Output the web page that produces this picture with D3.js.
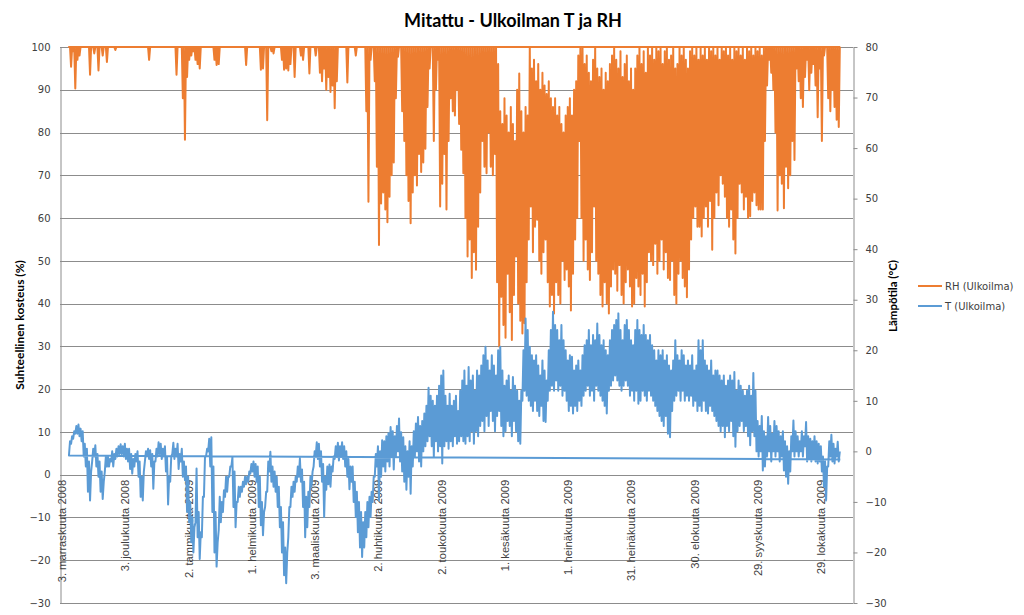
<!DOCTYPE html>
<html>
<head>
<meta charset="utf-8">
<script src="https://cdnjs.cloudflare.com/ajax/libs/d3/7.8.5/d3.min.js"></script>
<style>
body { margin: 0; background: #fff; }
</style>
</head>
<body>
<div id="chart-area"></div>
<script>

// SVG size
var width = 1024,
    height = 615;

// first day of each block of daily readings
var monthStarts = ["2008-11-06", "2008-12-01", "2009-01-01", "2009-02-01", "2009-03-01", "2009-04-01",
    "2009-05-01", "2009-06-01", "2009-07-01", "2009-08-01", "2009-09-01", "2009-10-01", "2009-11-01"];

// T (Ulkoilma), daily [low, high] in °C
var tNov08 = [[-0.8,2],[1.5,3],[2.5,4],[3.5,5],[3.5,5.3],[3,4.5],[2,4],[-1,1.5],[-3,0.5],[-8,-2],[-9.7,-4],[-2,0.5],[-1,1.2],[-3,-0.5],[-5,-2],[-8,-4],[-9.4,-6],[-4,-1],[-3,-1],[-3,-1.5],[-2,0],[-3,-0.5],[-1.5,0.5],[-1,1],[-0.5,1.4]];
var tDec08 = [[-0.5,1],[-1,1.5],[-1.5,0.5],[-2,0.5],[-3.5,-0.5],[-4.4,-1.5],[-3,-0.5],[-2,0],[-5,-2],[-9,-5],[-9.7,-4],[-2,0],[-1,0.5],[-1.5,0.2],[-3,-0.5],[-7.4,-2],[-2,0.5],[-1,1.8],[-0.5,1.5],[-1.5,0.5],[-1,1],[-4,-1],[-10.5,-5],[-6,-1],[-0.5,1.7],[-1.5,0.5],[-1,1.5],[-3.5,-0.5],[-2,0.5],[-5,-2],[-5.7,-3]];
var tJan09 = [[-12,-5],[-14,-10],[-18,-13],[-20,-15],[-14,-3.4],[-17,-12],[-21.3,-16],[-17,-9],[-9,-1],[-1,0.5],[0,2.5],[-3,2.8],[-12,-3],[-20,-12],[-22.8,-18],[-15.6,-9],[-14,-10],[-12,-7.7],[-9,-5],[-8,-5],[-5,-3],[-3,-1.2],[-11,-4],[-15,-10],[-10,-7],[-9,-7],[-8,-6],[-7,-5],[-6.5,-5],[-6,-4],[-4.4,-2.5]];
var tFeb09 = [[-4,-2],[-5,-2.5],[-6,-3],[-11,-5],[-14.6,-10],[-16.6,-12],[-11,-8],[-8,-2],[-4,-0.1],[-6,-3],[-7,-4],[-8,-5],[-11,-7],[-15,-11],[-20,-14],[-24.5,-19],[-26.1,-20],[-17,-11],[-11,-7],[-9,-6],[-8,-5],[-6,-3],[-5,-1.4],[-6,-3.6],[-11,-6],[-17,-9],[-15,-8],[-11,-5]];
var tMar09 = [[-7,-4],[-3,0],[-1,1.8],[-1.5,1.5],[-3,0],[-6,-2.5],[-13,-5],[-7.6,-3],[-6.5,-2.6],[-7,-3],[-4,-1],[-1.5,1],[-1,1.7],[-1.8,1],[-1,1.8],[-1.5,1],[-3,0],[-5,-1.5],[-7.5,-3],[-6,-3],[-10,-6],[-13,-8],[-16,-10],[-19,-12],[-20.9,-14],[-19,-12],[-17,-10],[-15,-9],[-13,-8],[-10,-5],[-5,-0.5]];
var tApr09 = [[-3,1],[-9.7,0],[-5,2.2],[-3,2],[-4,3],[-2,3.6],[-3,4.8],[-1,4],[-3.6,3],[-1,5],[0,6.5],[-2,3.8],[-4,2.8],[-6,1],[-7.6,0],[-5,2],[-8.4,1],[-3,4],[-1,5.5],[0,6.8],[-2,5],[-3,6],[0,7.5],[1,9],[2,12.6],[3,11],[1,10],[-1,9],[2,11],[0,13]];
var tMay09 = [[1,15],[-2.4,16],[1,11],[2,9],[0.5,11.4],[2,9],[1,10],[3,11],[1.5,8],[2,12],[3,14],[2,16],[1.5,13],[3,16.7],[2,14],[4,15],[1.5,12],[4,16],[3,15],[5,17],[6,19],[4,20.7],[7,18],[5,16],[8,19],[6,17],[4,15],[7,20],[8,20.7],[5,16],[3,13]];
var tJun09 = [[4,14],[6,15],[5,12],[3,14.7],[6,13],[4,12],[2,10],[1.5,12],[10,20],[12,26.3],[11,24],[10,20.7],[9,19],[8,18],[10,19],[8,17],[7,15],[9,18],[6,16],[5.8,14],[10,20],[12,24],[13,27.6],[12,25],[14,24],[12,22],[13,25],[11,22],[12,20],[10,18]];
var tJul09 = [[8,19],[9,18.7],[7.5,16],[9,17],[8,18],[10,16],[9,19],[11,21],[12,22],[13,24],[11,21],[12,23],[10,22],[13,25.3],[12,23],[11,21],[10,22],[9,20],[7.5,19],[12,22],[13,24],[14,25],[15,26],[14,27.3],[13,24],[12,22],[13,25],[14,26],[13,24],[11,22],[12,21]];
var tAug09 = [[10,24],[12,26],[9.4,24],[10,23],[12,25],[11,23],[10,22],[12,23],[11,21],[10,20],[9,18],[8,20],[7,19],[6,20],[5,18],[7,19],[3.5,17],[2.8,16],[8,18],[10,22],[11,19],[12,18],[10,20],[12,19],[10,17],[11,18],[10,17],[11,19],[9,16],[10,17],[8,22]];
var tSep09 = [[9,20],[8,22],[10,18],[8,17],[7.5,16],[9,18],[8,15],[7,16],[6,16],[5,15],[4,14],[5,15],[2.8,13],[5,14],[4,15],[6,14],[3,15.7],[0.9,12],[4,14],[5,13],[6,12],[4,11],[5,12],[3,13],[1.2,11],[4,15.5],[3,12],[0,6],[-1,5],[0,7]];
var tOct09 = [[-3.8,4],[-3,3],[-1,6.8],[0,5],[-2,3.5],[0,6],[-1,5],[0,4],[-2,3],[-1,4],[-3.8,2],[-5,1],[-6.4,0],[-4,3],[0,6.1],[-1,4],[0,3],[-1,2],[0,4],[-1,3],[1,5.8],[-2,3],[-1.5,2.5],[-2,2],[-1.5,3],[-2,2],[-2.4,1.5],[-2,1],[-4,-1],[-7,-2],[-9.7,-3]];
var tNov09 = [[-3,2],[-1,3.3],[-2,1.5],[-2.4,0.5],[-1,1.9],[-2,0]];

// RH (Ulkoilma), daily [low, high] in %, a single number when the day stayed there
var rhNov08 = [100,[95.4,100],[99,100],[90.3,100],[97,100],[98,100],100,100,100,100,[93.5,100],100,[98.5,100],100,[94.5,100],100,[98,100],100,[96.5,100],100,100,100,[99.3,100],100,100];
var rhDec08 = [100,100,100,100,100,100,100,100,100,100,100,100,100,[97,100],100,100,100,100,100,100,100,100,100,100,100,100,[93.5,100],100,100,[88,100],[78.3,100]];
var rhJan09 = [[93,100],[97,100],[98,100],[99,100],[97,100],[96,100],[95,100],100,100,100,100,100,100,[97,100],[95.8,100],[96,100],100,100,100,100,100,100,100,100,100,100,100,100,[95.8,100],100,100];
var rhFeb09 = [100,100,100,100,[94.7,100],[95,100],100,[82.9,100],100,[99,100],[98.5,100],100,100,100,[97,100],[94.7,100],[95,100],[94.5,100],[96,100],100,[93,100],100,100,[98,100],[97,100],100,100,[93.8,100]];
var rhMar09 = [100,100,[98,100],100,[94,100],[92,100],[95,100],[90,100],[93,100],[89.5,100],[91,100],[85.7,100],[92,100],100,100,100,100,[91.7,100],100,100,100,[98,100],100,100,100,100,[85,100],[63.8,100],[97,100],100,[92,100]];
var rhApr09 = [[72,100],[53.7,100],[63.4,100],[66,100],[62,100],[59,100],[65,100],[70,100],[73,100],[88,100],[97.7,100],100,[85,100],[78,100],[70,100],[64,100],[58.8,100],[66,100],[70,100],[67.6,100],[75,100],[70.8,100],[73,100],[76.2,100],[86,100],[95,100],100,[78,100],[90,100],[97,100]];
var rhMay09 = [[62.7,100],[68,100],[75,100],[62,100],[78,100],[88,100],[85,100],[84,100],[90,100],[82,100],[76,100],[70.5,100],[60,100],[51,100],[55,100],[46,100],[52,100],[47.9,100],[58,100],[66,100],[78,100],[72,100],[70.5,100],[80,100],[72,100],[70,100],[75,100],[45,96],[30,85],[41.6,82],[35,88]];
var rhJun09 = [[32,84],[47,80],[38,86],[31.5,82],[42,78],[51,90],[40,93.8],[36,85],[33,80],[35.4,86],[45,84],[55,100],[62.7,95],[52,97],[58,92],[59.6,96],[50,90],[47,94],[52,91],[55,89],[45,92],[39.3,88],[42,86],[37.7,88],[45,84],[42,86],[40,82],[50,80],[45.5,84],[48,86]];
var rhJul09 = [[44,88],[38.4,84],[47,90],[55,92],[60,98],[78,100],[60,100],[50,96],[55,98],[48,94],[45.5,92],[52,97],[62.7,100],[50,95],[47,93],[42,95],[39.3,90],[45,94],[40,92],[37.7,96],[44,98],[48,100],[47,97],[43,95],[49,99],[42,93],[40,96],[45,98],[48,92],[44,95],[39.3,90]];
var rhAug09 = [[40,95],[46,98],[44,100],[42,96],[47,99],[39.3,94],[45,100],[52,98],[50,100],[49,97],[54,100],[47,99],[50,100],[55,96],[48,99],[52,100],[46,97],[45.5,98],[50,100],[42,95],[40,96],[47,100],[50,98],[46,100],[44,97],[41.5,95],[48,99],[55,100],[60,98],[62.7,100],[58,97]];
var rhSep09 = [[58,100],[55.7,98],[60,100],[62.7,97],[58,100],[64,99],[52.6,100],[60,98],[66,100],[63,97],[70,100],[68,99],[65,100],[60,98],[58,100],[62,97],[55,100],[51.7,99],[60,100],[68,98],[66,100],[62,97],[65,100],[60,99],[60.4,100],[64,98],[66,100],[63,99],[62,100],[62,98]];
var rhOct09 = [[62,100],[78,100],[91,100],[97,100],[94,100],[90,100],[80,100],[61.8,100],[70,100],[68,100],[62.3,100],[72,100],[67,100],[70,100],[78,100],[73.6,100],[95,100],[92,100],[88,100],[86,100],[93,100],[97,100],[89.9,100],[94,100],[96,100],[91,100],[83.6,100],[95,100],[78,100],[98,100],100];
var rhNov09 = [[88,100],[85,100],[90,100],[86,100],[83,100],[81.3,100]];

// the logger's last reading is stored ahead of the first one
var tStray = { date: "2009-11-07", value: -1.6 };
var rhStray = { date: "2009-11-07", value: 100 };

var tMonths = [tNov08, tDec08, tJan09, tFeb09, tMar09, tApr09, tMay09, tJun09, tJul09, tAug09, tSep09, tOct09, tNov09];
var rhMonths = [rhNov08, rhDec08, rhJan09, rhFeb09, rhMar09, rhApr09, rhMay09, rhJun09, rhJul09, rhAug09, rhSep09, rhOct09, rhNov09];

// axis ticks and labels
var tickDates = ["2008-11-03", "2008-12-03", "2009-01-02", "2009-02-01", "2009-03-03", "2009-04-02", "2009-05-02",
    "2009-06-01", "2009-07-01", "2009-07-31", "2009-08-30", "2009-09-29", "2009-10-29"];
var tickLabels = ["3. marraskuuta 2008", "3. joulukuuta 2008", "2. tammikuuta 2009", "1. helmikuuta 2009",
    "3. maaliskuuta 2009", "2. huhtikuuta 2009", "2. toukokuuta 2009", "1. kesäkuuta 2009", "1. heinäkuuta 2009",
    "31. heinäkuuta 2009", "30. elokuuta 2009", "29. syyskuuta 2009", "29. lokakuuta 2009"];
var rhTicks = [-30, -20, -10, 0, 10, 20, 30, 40, 50, 60, 70, 80, 90, 100];
var tTicks = [-30, -20, -10, 0, 10, 20, 30, 40, 50, 60, 70, 80];
var seriesNames = ["RH (Ulkoilma)", "T (Ulkoilma)"];
var seriesColors = ["#ED7D31", "#5B9BD5"];


var parseDate = d3.utcParse("%Y-%m-%d");

function buildSeries(months, stray) {
    var pts = [{ date: parseDate(stray.date), value: stray.value }];
    months.forEach(function (days, i) {
        var start = parseDate(monthStarts[i]);
        days.forEach(function (v, j) {
            var pair = Array.isArray(v) ? v : [v, v];
            var day = d3.utcDay.offset(start, j);
            pts.push({ date: d3.utcHour.offset(day, 6), value: pair[0] });
            pts.push({ date: d3.utcHour.offset(day, 18), value: pair[1] });
        });
    });
    return pts;
}

var rhData = buildSeries(rhMonths, rhStray);
var tData = buildSeries(tMonths, tStray);

var plotLeft = 60, plotRight = 853, plotTop = 47, plotBottom = 603;

var svg = d3.select("#chart-area").append("svg")
    .attr("width", width)
    .attr("height", height)
    .style("font-family", "'DejaVu Sans', Verdana, sans-serif");

var x = d3.scaleUtc()
    .domain([parseDate("2008-11-02"), parseDate("2009-11-13")])
    .range([plotLeft, plotRight]);

var rhScale = d3.scaleLinear().domain([-30, 100]).range([plotBottom, plotTop]);
var tScale = d3.scaleLinear().domain([-30, 80]).range([plotBottom, plotTop]);

// gridlines
svg.append("g")
    .selectAll("line")
    .data(rhTicks)
    .enter()
    .append("line")
    .attr("x1", plotLeft)
    .attr("x2", plotRight)
    .attr("y1", function (d) { return Math.round(rhScale(d)) + 0.5; })
    .attr("y2", function (d) { return Math.round(rhScale(d)) + 0.5; })
    .attr("stroke", "#8c8c8c")
    .attr("stroke-width", 1);

// left axis
var yAxisLeft = d3.axisLeft(rhScale)
    .tickValues(rhTicks)
    .tickSize(0)
    .tickPadding(10);

svg.append("g")
    .attr("class", "axis y-axis")
    .attr("transform", "translate(" + (plotLeft + 0.5) + ",0)")
    .call(yAxisLeft)
    .call(function (g) {
        g.select(".domain").attr("stroke", "#8c8c8c");
        g.selectAll("text").attr("font-size", 10).attr("fill", "#404040")
            .attr("font-family", "'DejaVu Sans', Verdana, sans-serif");
    });

// right axis
var yAxisRight = d3.axisRight(tScale)
    .tickValues(tTicks)
    .tickSize(4)
    .tickSizeOuter(0)
    .tickPadding(8);

svg.append("g")
    .attr("class", "axis y-axis-right")
    .attr("transform", "translate(" + (plotRight + 0.5) + ",0)")
    .call(yAxisRight)
    .call(function (g) {
        g.select(".domain").attr("stroke", "#8c8c8c");
        g.selectAll("line").attr("stroke", "#8c8c8c");
        g.selectAll("text").attr("font-size", 10).attr("fill", "#404040")
            .attr("font-family", "'DejaVu Sans', Verdana, sans-serif");
    });

// date labels hang under the 0 line of the left axis
svg.append("g")
    .selectAll("text")
    .data(tickDates)
    .enter()
    .append("text")
    .attr("transform", function (d) {
        return "translate(" + x(parseDate(d)) + "," + (rhScale(0) + 5) + ") rotate(-90)";
    })
    .attr("dy", "0.35em")
    .attr("text-anchor", "end")
    .attr("font-family", "'Liberation Sans', Arial, sans-serif")
    .attr("font-size", 11.2)
    .attr("fill", "#404040")
    .text(function (d, i) { return tickLabels[i]; });

// series
var rhLine = d3.line()
    .x(function (d) { return x(d.date); })
    .y(function (d) { return rhScale(d.value); });

var tLine = d3.line()
    .x(function (d) { return x(d.date); })
    .y(function (d) { return tScale(d.value); });

svg.append("path")
    .datum(rhData)
    .attr("d", rhLine)
    .attr("fill", "none")
    .attr("stroke", seriesColors[0])
    .attr("stroke-width", 2)
    .attr("stroke-linejoin", "round");

svg.append("path")
    .datum(tData)
    .attr("d", tLine)
    .attr("fill", "none")
    .attr("stroke", seriesColors[1])
    .attr("stroke-width", 2)
    .attr("stroke-linejoin", "round");

// title
svg.append("text")
    .attr("x", 513)
    .attr("y", 27)
    .attr("text-anchor", "middle")
    .attr("font-family", "Lato, 'Open Sans', sans-serif")
    .attr("font-weight", "bold")
    .attr("font-size", 18)
    .attr("fill", "#000")
    .text("Mitattu - Ulkoilman T ja RH");

// axis titles
svg.append("text")
    .attr("transform", "translate(20," + 325 + ") rotate(-90)")
    .attr("dy", "0.35em")
    .attr("text-anchor", "middle")
    .attr("font-family", "Lato, 'Open Sans', sans-serif")
    .attr("font-weight", "bold")
    .attr("font-size", 12)
    .attr("fill", "#000")
    .text("Suhteellinen kosteus (%)");

svg.append("text")
    .attr("transform", "translate(893," + 296 + ") rotate(-90)")
    .attr("dy", "0.35em")
    .attr("text-anchor", "middle")
    .attr("font-family", "Lato, 'Open Sans', sans-serif")
    .attr("font-weight", "bold")
    .attr("font-size", 11.5)
    .attr("fill", "#000")
    .text("Lämpötila (°C)");

// legend
var legend = svg.append("g")
    .selectAll("g")
    .data(seriesNames)
    .enter()
    .append("g")
    .attr("transform", function (d, i) { return "translate(918," + (286 + i * 20) + ")"; });

legend.append("line")
    .attr("x1", 0)
    .attr("x2", 24)
    .attr("stroke", function (d, i) { return seriesColors[i]; })
    .attr("stroke-width", 2);

legend.append("text")
    .attr("x", 27)
    .attr("dy", "0.35em")
    .attr("font-size", 10)
    .attr("fill", "#404040")
    .text(function (d) { return d; });

</script>
</body>
</html>
